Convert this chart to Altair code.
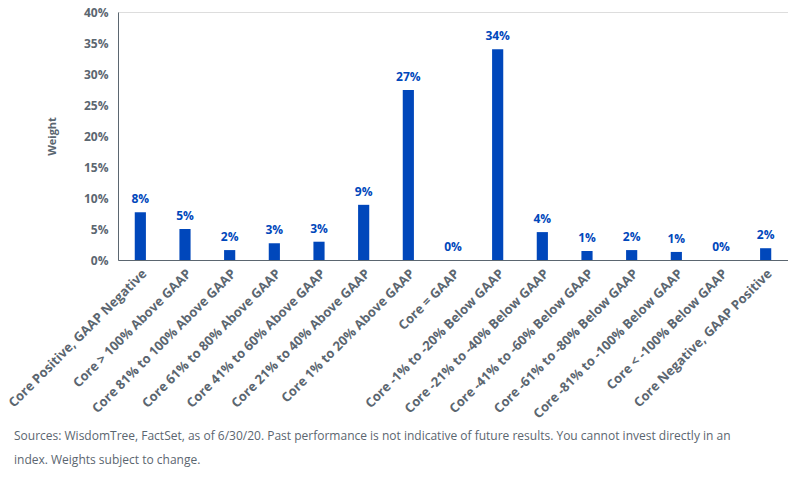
import altair as alt
import pandas as pd

categories = [
    "Core Positive, GAAP Negative",
    "Core > 100% Above GAAP",
    "Core 81% to 100% Above GAAP",
    "Core 61% to 80% Above GAAP",
    "Core 41% to 60% Above GAAP",
    "Core 21% to 40% Above GAAP",
    "Core 1% to 20% Above GAAP",
    "Core = GAAP",
    "Core -1% to -20% Below GAAP",
    "Core -21% to -40% Below GAAP",
    "Core -41% to -60% Below GAAP",
    "Core -61% to -80% Below GAAP",
    "Core -81% to -100% Below GAAP",
    "Core < -100% Below GAAP",
    "Core Negative, GAAP Positive",
]
weights = [7.7, 5.0, 1.6, 2.7, 2.95, 8.9, 27.4, 0.0, 34.0, 4.5, 1.45, 1.6, 1.3, 0.0, 1.9]
labels = ["8%", "5%", "2%", "3%", "3%", "9%", "27%", "0%", "34%", "4%", "1%", "2%", "1%", "0%", "2%"]
footnote = [
    "Sources: WisdomTree, FactSet, as of 6/30/20. Past performance is not indicative of future results. You cannot invest directly in an",
    "index. Weights subject to change.",
]

df = pd.DataFrame({"cat": categories, "w": [v / 100 for v in weights], "lab": labels})

GRAY = "#5b6670"
BLUE = "#0047bb"
FONT = "Open Sans"

x = alt.X("cat:N", sort=categories, title=None,
          scale=alt.Scale(paddingInner=0.75, paddingOuter=0.375),
          axis=alt.Axis(labelAngle=-45, labelFont=FONT, labelFontSize=13, labelFontWeight="bold",
                        labelColor=GRAY, ticks=False, domainColor=GRAY, labelPadding=7, labelLimit=400))
y = alt.Y("w:Q", title="Weight",
          scale=alt.Scale(domain=[0, 0.4]),
          axis=alt.Axis(format=".0%", values=[0, .05, .1, .15, .2, .25, .3, .35, .4], grid=False,
                        ticks=False, domainColor=GRAY, labelFont=FONT, labelFontSize=12,
                        labelFontWeight="bold", labelColor=GRAY, labelPadding=10,
                        titleFont=FONT, titleFontSize=11, titleFontWeight="bold", titleColor=GRAY,
                        titlePadding=26))

bars = alt.Chart(df).mark_bar(color=BLUE).encode(x=x, y=y)
text = alt.Chart(df).mark_text(color=BLUE, font=FONT, fontSize=12, fontWeight="bold", dy=-13).encode(
    x=x, y=y, text="lab:N")

chart = alt.layer(bars, text).properties(
    width=670, height=248,
    padding={"left": 118, "top": 12, "right": 0, "bottom": 218},
    autosize=alt.AutoSizeParams(type="none"),
    title=alt.TitleParams(footnote, orient="bottom", anchor="start", frame="group", dx=-104,
                          offset=10, font=FONT, fontSize=12, fontWeight="normal",
                          color=GRAY, lineHeight=24),
).configure_view(stroke=None).configure(background="white")

chart.save("out.html", embed_options={"renderer": "svg", "actions": False})
